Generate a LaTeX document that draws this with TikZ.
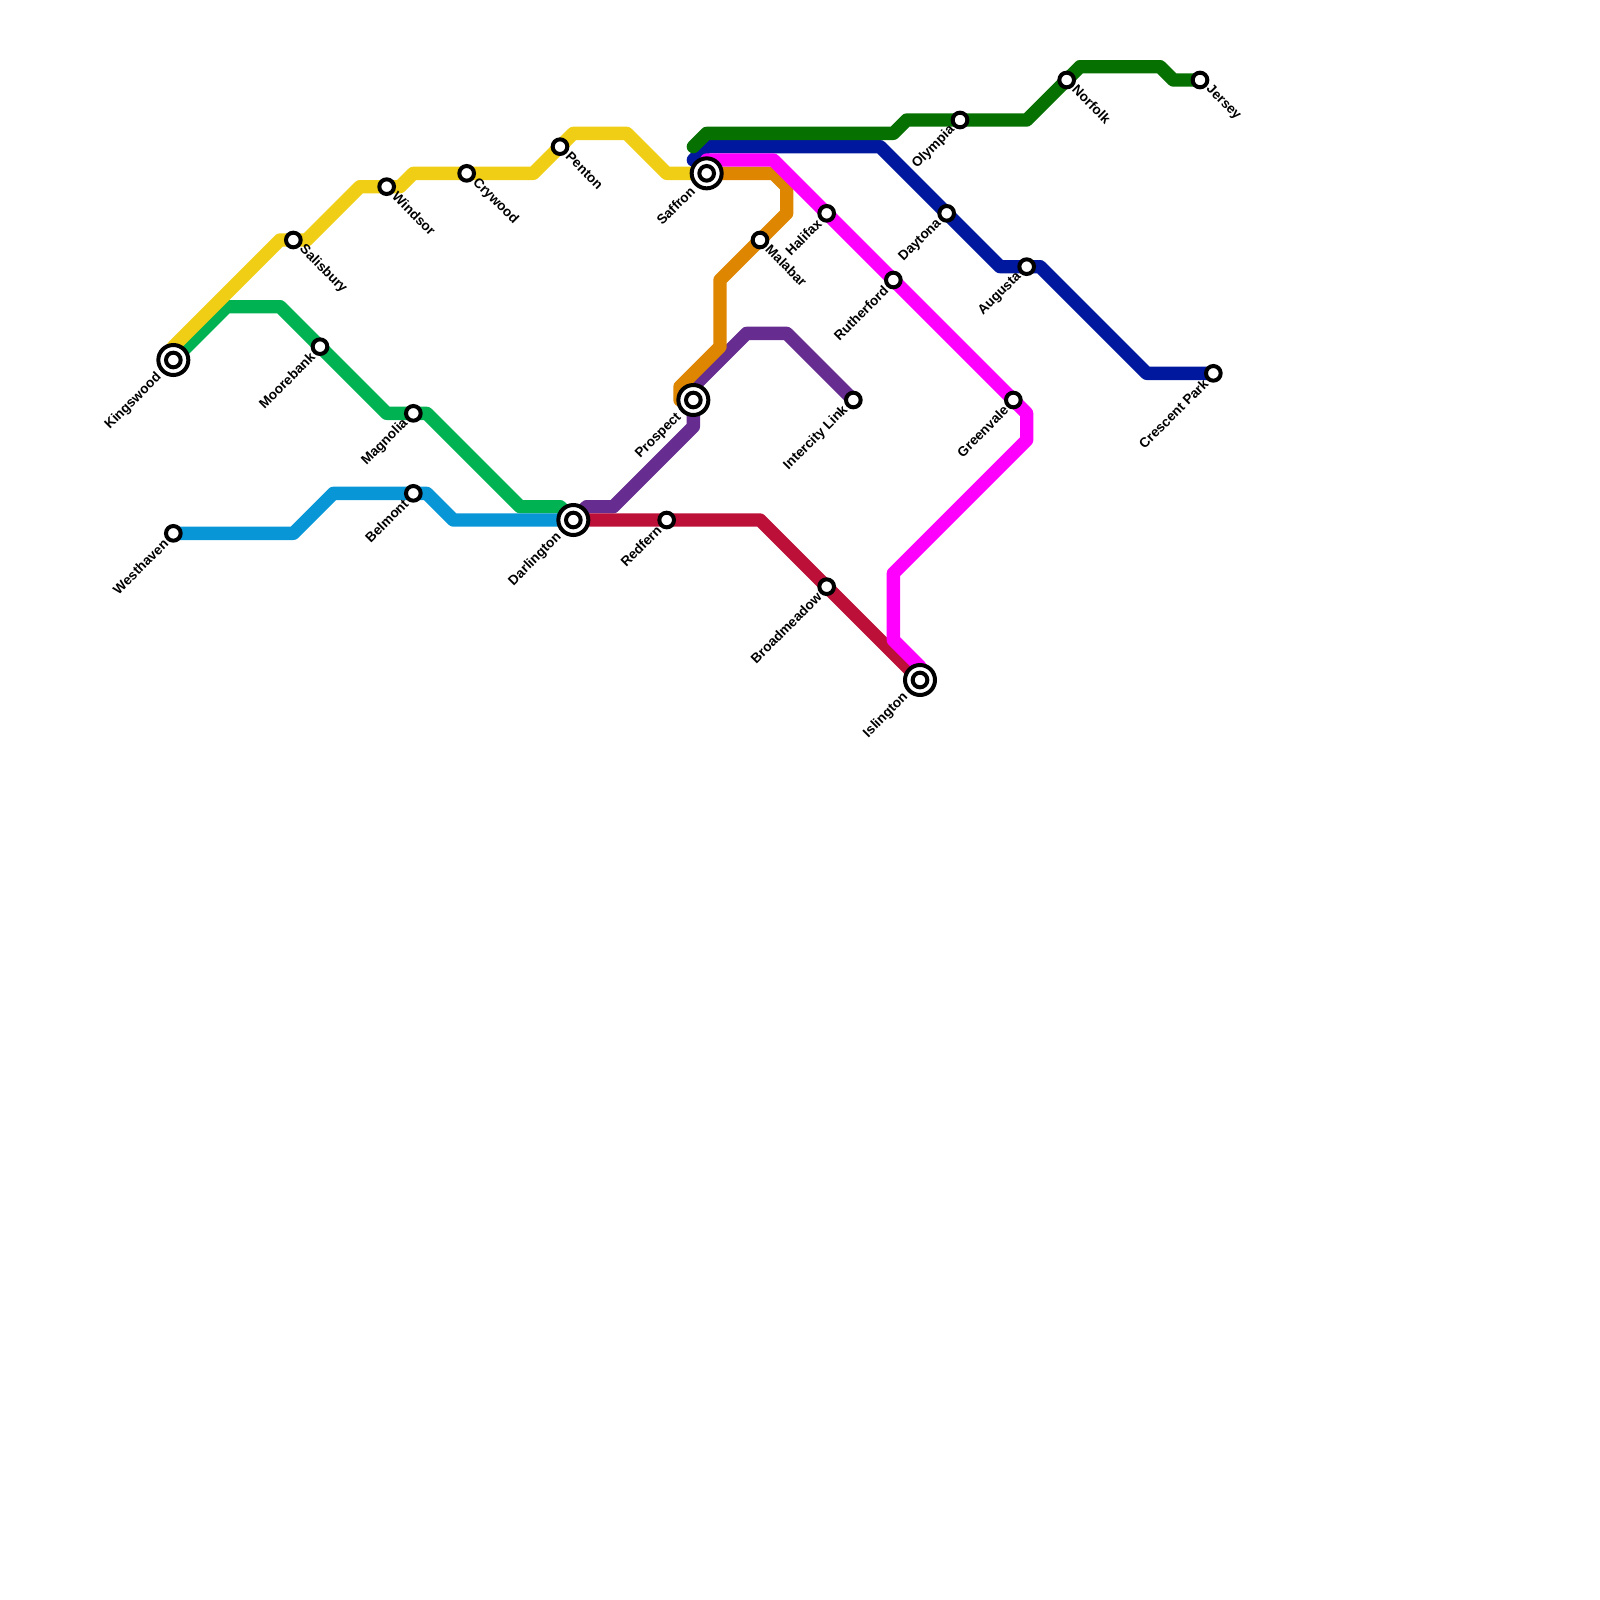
\documentclass[tikz,border=0pt]{standalone}
\usepackage{fontspec}
\setmainfont{Liberation Sans}
\usepackage{xcolor}
\definecolor{lnyellow}{HTML}{F0CE15}
\definecolor{lngreen}{HTML}{00B251}
\definecolor{lnblue}{HTML}{0896D7}
\definecolor{lncrimson}{HTML}{BD1038}
\definecolor{lnpurple}{HTML}{662C90}
\definecolor{lnorange}{HTML}{DF8600}
\definecolor{lnmagenta}{HTML}{FF00FF}
\definecolor{lnnavy}{HTML}{00189E}
\definecolor{lnforest}{HTML}{067000}

\begin{document}
\begin{tikzpicture}[
        x=0.4cm, y=-0.4cm,
        metro/.style={line width=0.4cm, line join=round, line cap=round},
        stop/.style={circle, draw=black, fill=white, line width=0.12cm, minimum size=0.44cm, inner sep=0pt},
        hub/.style={circle, draw=black, fill=white, line width=0.12cm, minimum size=0.9cm, inner sep=0pt},
        namesw/.style={font=\bfseries\fontsize{11.6}{13}\selectfont, anchor=east, rotate=45, inner sep=0pt},
        namese/.style={font=\bfseries\fontsize{11.6}{13}\selectfont, anchor=west, rotate=-45, inner sep=0pt}
    ]
    \useasboundingbox (0,0) rectangle (120,120);

    % Station positions
    \foreach \n/\x/\y in {kingswood/13/27, salisbury/22/18, windsor/29/14, crywood/35/13, penton/42/11,
        saffron/53/13, moorebank/24/26, magnolia/31/31, darlington/43/39, westhaven/13/40, belmont/31/37,
        prospect/52/30, malabar/57/18, intercity/64/30, redfern/50/39, broadmeadow/62/44, islington/69/51,
        halifax/62/16, rutherford/67/21, greenvale/76/30, olympia/72/9, norfolk/80/6, jersey/90/6,
        daytona/71/16, augusta/77/20, crescent/91/28} {
        \coordinate (\n) at (\x,\y);
    }

    % Lines
    \draw[metro, lngreen] (kingswood) -- (17,23) -- (21,23) -- (moorebank) -- (29,31) -- (magnolia) -- (32,31) -- (39,38) -- (42,38) -- (darlington);
    \draw[metro, lnyellow] (kingswood) -- (13,26) -- (21,18) -- (salisbury) -- (23,18) -- (27,14) -- (windsor) -- (30,14) -- (31,13) -- (crywood) -- (40,13) -- (penton) -- (43,10) -- (47,10) -- (50,13) -- (saffron);
    \draw[metro, lnblue] (westhaven) -- (22,40) -- (25,37) -- (belmont) -- (32,37) -- (34,39) -- (darlington);
    \draw[metro, lnpurple] (darlington) -- (44,38) -- (46,38) -- (52,32) -- (prospect) -- (52,29) -- (56,25) -- (59,25) -- (intercity);
    \draw[metro, lncrimson] (darlington) -- (redfern) -- (57,39) -- (broadmeadow) -- (islington);
    \draw[metro, lnnavy] (52,12) -- (53,11) -- (66,11) -- (daytona) -- (75,20) -- (augusta) -- (78,20) -- (86,28) -- (crescent);
    \draw[metro, lnforest] (52,11) -- (53,10) -- (67,10) -- (68,9) -- (olympia) -- (77,9) -- (norfolk) -- (81,5) -- (87,5) -- (88,6) -- (jersey);
    \draw[metro, lnorange] (saffron) -- (58,13) -- (59,14) -- (59,16) -- (malabar) -- (54,21) -- (54,26) -- (51,29) -- (51,30) -- (prospect);
    \draw[metro, lnmagenta] (saffron) -- (53,12) -- (58,12) -- (halifax) -- (rutherford) -- (greenvale) -- (77,31) -- (77,33) -- (67,43) -- (67,48) -- (69,50) -- (islington);

    % Stations, name to the lower left
    \foreach \n/\t in {moorebank/Moorebank, magnolia/Magnolia, westhaven/Westhaven, belmont/Belmont,
        redfern/Redfern, broadmeadow/Broadmeadow, intercity/Intercity Link, halifax/Halifax,
        rutherford/Rutherford, greenvale/Greenvale, olympia/Olympia, daytona/Daytona,
        augusta/Augusta, crescent/Crescent Park} {
        \node[stop] (st\n) at (\n) {};
        \node[namesw] (lb\n) at ([shift={(-0.55,0.6)}]\n) {\t};
    }

    % Stations, name to the lower right
    \foreach \n/\t in {salisbury/Salisbury, windsor/Windsor, crywood/Crywood, penton/Penton,
        malabar/Malabar, norfolk/Norfolk, jersey/Jersey} {
        \node[stop] (st\n) at (\n) {};
        \node[namese] (lb\n) at ([shift={(0.6,0.55)}]\n) {\t};
    }

    % Interchanges
    \foreach \n/\t in {kingswood/Kingswood, darlington/Darlington, saffron/Saffron, prospect/Prospect, islington/Islington} {
        \node[hub] (hb\n) at (\n) {};
        \node[stop] (st\n) at (\n) {};
        \node[namesw] (lb\n) at ([shift={(-1.05,1.15)}]\n) {\t};
    }
\end{tikzpicture}
\end{document}
